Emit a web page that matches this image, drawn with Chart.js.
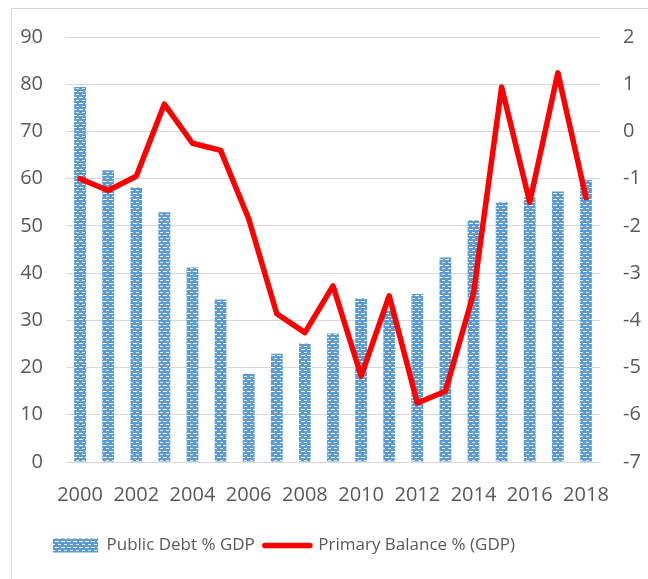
<!DOCTYPE html>
<html>
<head>
<meta charset="utf-8">
<script src="https://cdn.jsdelivr.net/npm/chart.js@4.4.1/dist/chart.umd.min.js"></script>
<style>
  html, body { margin: 0; padding: 0; background: #fff; }
  #wrap { position: relative; width: 648px; height: 579px; }
  #frame { position: absolute; left: 11px; top: 8px; width: 700px; height: 700px;
           border-left: 1px solid #d9d9d9; border-top: 1px solid #d9d9d9; }
  #c { position: absolute; left: 0; top: 0; }
</style>
</head>
<body>
<div id="wrap">
  <div id="frame"></div>
  <canvas id="c" width="648" height="579"></canvas>
</div>
<script>
var years = ['2000','2001','2002','2003','2004','2005','2006','2007','2008','2009',
             '2010','2011','2012','2013','2014','2015','2016','2017','2018'];
// Public debt, % of GDP (left axis)
var debt = [79.4, 61.8, 58.2, 52.9, 41.2, 34.4, 18.7, 22.9, 25.1, 27.2,
            34.6, 32.0, 35.6, 43.3, 51.2, 55.0, 56.0, 57.3, 59.7];
// Primary balance, % of GDP (right axis)
var balance = [-1.0, -1.25, -0.95, 0.58, -0.25, -0.4, -1.85, -3.86, -4.26, -3.27,
               -5.18, -3.48, -5.75, -5.5, -3.43, 0.94, -1.5, 1.24, -1.4];

var FONT = "'Open Sans', sans-serif";
var TEXT = '#595959';
var GRID = '#d9d9d9';
var LEGEND_LEFT = 43;   // legend sits left of centre in the original (cropped picture)

// dotted blue fill like the office pattern
function makePattern(){
  var t = document.createElement('canvas');
  t.width = 6; t.height = 6;
  var g = t.getContext('2d');
  g.fillStyle = '#5b9bd5';
  g.fillRect(0, 0, 6, 6);
  g.fillStyle = '#ffffff';
  g.fillRect(1, 1, 4, 1);
  g.fillStyle = '#e6eff9';
  g.fillRect(0, 4, 1, 1);
  g.fillRect(4, 4, 2, 1);
  return g.createPattern(t, 'repeat');
}

// move the legend start after layout
var legendShift = {
  id: 'legendShift',
  afterLayout: function(chart){
    if (chart.legend) chart.legend.left = LEGEND_LEFT;
  }
};

var ctx = document.getElementById('c').getContext('2d');
var pattern = makePattern();

new Chart(ctx, {
  type: 'bar',
  data: {
    labels: years,
    datasets: [
      {
        label: 'Public Debt % GDP',
        data: debt,
        backgroundColor: pattern,
        borderWidth: 0,
        barPercentage: 0.42,
        categoryPercentage: 1,
        yAxisID: 'yL',
        order: 1
      },
      {
        type: 'line',
        label: 'Primary Balance % (GDP)',
        data: balance,
        borderColor: '#ff0000',
        backgroundColor: '#ff0000',
        borderWidth: 5.5,
        borderJoinStyle: 'round',
        borderCapStyle: 'round',
        pointRadius: 0,
        tension: 0,
        yAxisID: 'yR',
        order: 0
      }
    ]
  },
  plugins: [legendShift],
  options: {
    responsive: false,
    animation: false,
    layout: { padding: { top: 37, left: 0, right: 0, bottom: 15 } },
    plugins: {
      tooltip: { enabled: false },
      legend: {
        position: 'bottom',
        align: 'start',
        labels: {
          usePointStyle: true,
          pointStyleWidth: 45,
          boxHeight: 14,
          padding: 10,
          color: TEXT,
          font: { family: FONT, size: 17 },
          sort: function(a, b){ return a.datasetIndex - b.datasetIndex; },
          generateLabels: function(chart){
            return chart.data.datasets.map(function(ds, i){
              var isLine = ds.type === 'line';
              return {
                text: ds.label,
                datasetIndex: i,
                fillStyle: isLine ? '#ff0000' : pattern,
                strokeStyle: '#ff0000',
                lineWidth: isLine ? 5.5 : 0,
                lineCap: 'round',
                pointStyle: isLine ? 'line' : 'rect',
                fontColor: TEXT,
                hidden: false
              };
            });
          }
        }
      }
    },
    scales: {
      x: {
        grid: { display: false },
        border: { display: true, color: GRID },
        ticks: {
          autoSkip: false,
          maxRotation: 0,
          padding: 13,
          color: TEXT,
          font: { family: FONT, size: 20 },
          callback: function(v, i){ return i % 2 === 0 ? this.getLabelForValue(v) : ''; }
        },
        afterFit: function(s){ s.height = 65; }
      },
      yL: {
        position: 'left',
        min: 0, max: 90,
        grid: { color: GRID, lineWidth: 1, drawTicks: false },
        border: { display: false },
        ticks: { stepSize: 10, padding: 23, color: TEXT, font: { family: FONT, size: 20 } },
        afterFit: function(s){ s.width = 66; }
      },
      yR: {
        position: 'right',
        min: -7, max: 2,
        grid: { display: false, drawTicks: false },
        border: { display: false },
        ticks: { stepSize: 1, padding: 23, color: TEXT, font: { family: FONT, size: 20 } },
        afterFit: function(s){ s.width = 48; }
      }
    }
  }
});
</script>
</body>
</html>
